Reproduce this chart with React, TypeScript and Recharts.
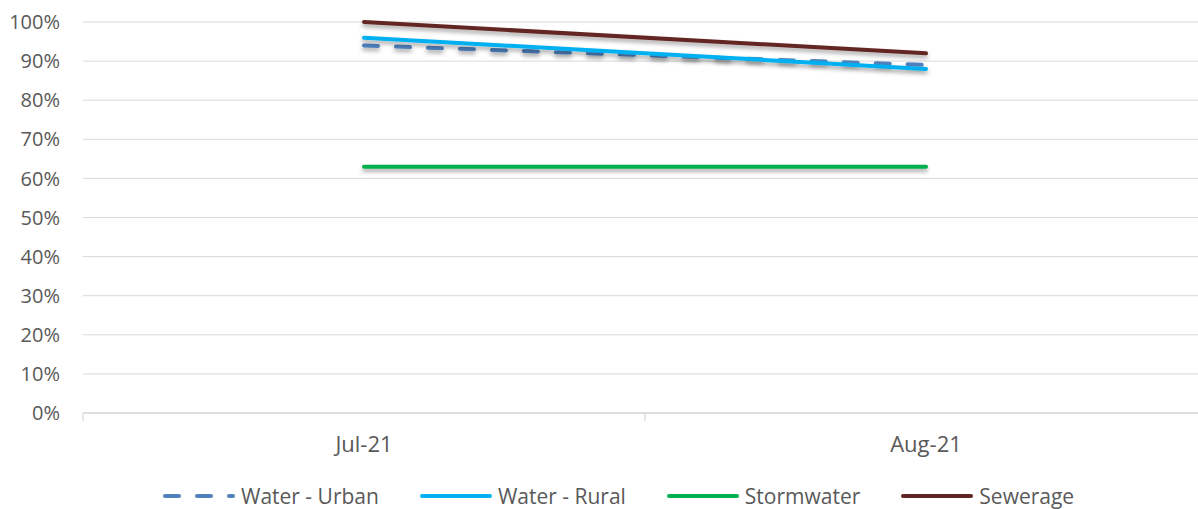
import React from 'react';
import { LineChart, Line, XAxis, YAxis, CartesianGrid, Legend } from 'recharts';

const categories = ['Jul-21', 'Aug-21'];
const waterUrban = [0.94, 0.89];
const waterRural = [0.96, 0.88];
const stormwater = [0.63, 0.63];
const sewerage = [1.0, 0.92];
const yTicks = [0, 0.1, 0.2, 0.3, 0.4, 0.5, 0.6, 0.7, 0.8, 0.9, 1.0];

const seriesDefs = [
  { key: 'urban', name: 'Water - Urban', color: '#4F81BD', dash: '14 18' },
  { key: 'rural', name: 'Water - Rural', color: '#00B0F0', dash: undefined },
  { key: 'storm', name: 'Stormwater', color: '#00B050', dash: undefined },
  { key: 'sewer', name: 'Sewerage', color: '#632523', dash: undefined },
];

const data = categories.map((c, i) => ({
  cat: c,
  urban: waterUrban[i],
  rural: waterRural[i],
  storm: stormwater[i],
  sewer: sewerage[i],
}));

const FONT = '"Open Sans", "Noto Sans", sans-serif';
const TEXT = '#595959';

const XTick = (props: any) => {
  const { x, y, payload } = props;
  const off = payload && payload.offset ? payload.offset : 0;
  const axisY = y - 20;
  return (
    <g>
      <line x1={x - off} x2={x - off} y1={axisY} y2={axisY + 8} stroke="#D0D0D0" strokeWidth={1} />
      <text x={x} y={axisY + 39} textAnchor="middle" fill={TEXT} fontSize={22} fontFamily={FONT}>
        {payload.value}
      </text>
    </g>
  );
};

const LegendContent = () => (
  <div
    style={{
      display: 'flex',
      flexDirection: 'row',
      alignItems: 'center',
      paddingLeft: 163,
      paddingTop: 24,
      gap: 41,
      fontFamily: FONT,
      fontSize: 21,
      lineHeight: '26px',
      color: TEXT,
      whiteSpace: 'nowrap',
      width: 1100,
    }}
  >
    {seriesDefs.map((s) => (
      <div key={s.key} style={{ display: 'flex', alignItems: 'center', flexShrink: 0 }}>
        <svg width={72} height={10} style={{ marginRight: 6, flexShrink: 0 }}>
          <line
            x1={2}
            x2={70}
            y1={5}
            y2={5}
            stroke={s.color}
            strokeWidth={4}
            strokeLinecap="round"
            strokeDasharray={s.dash}
          />
        </svg>
        <span style={{ flexShrink: 0 }}>{s.name}</span>
      </div>
    ))}
  </div>
);

export default function App() {
  return (
    <div style={{ position: 'absolute', left: 0, top: 0, width: 1198, height: 509, overflow: 'hidden', background: '#fff' }}>
      <LineChart width={1207} height={509} data={data} margin={{ top: 22, right: 0, left: 0, bottom: 0 }}>
        <defs>
          <filter id="lineShadow" filterUnits="userSpaceOnUse" x="0" y="0" width="1207" height="509">
            <feDropShadow dx="0" dy="3" stdDeviation="2" floodColor="#000" floodOpacity="0.35" />
          </filter>
        </defs>
        <CartesianGrid vertical={false} stroke="#D9D9D9" strokeWidth={1} />
        <XAxis
          dataKey="cat"
          type="category"
          scale="band"
          height={46}
          axisLine={{ stroke: '#D0D0D0' }}
          tickLine={false}
          tickSize={0}
          tickMargin={20}
          tick={<XTick />}
          interval={0}
        />
        <YAxis
          type="number"
          domain={[0, 1]}
          ticks={yTicks}
          width={83}
          axisLine={false}
          tickLine={false}
          tickSize={0}
          tickMargin={23}
          tickFormatter={(v: number) => `${Math.round(v * 100)}%`}
          tick={{ fill: TEXT, fontSize: 20, fontFamily: FONT }}
          interval={0}
        />
        <Legend verticalAlign="bottom" height={50} content={<LegendContent />} />
        {seriesDefs.map((s) => (
          <Line
            key={s.key}
            dataKey={s.key}
            name={s.name}
            stroke={s.color}
            strokeWidth={4}
            strokeLinecap="round"
            strokeDasharray={s.dash}
            dot={false}
            activeDot={false}
            filter="url(#lineShadow)"
            isAnimationActive={false}
          />
        ))}
      </LineChart>
    </div>
  );
}
